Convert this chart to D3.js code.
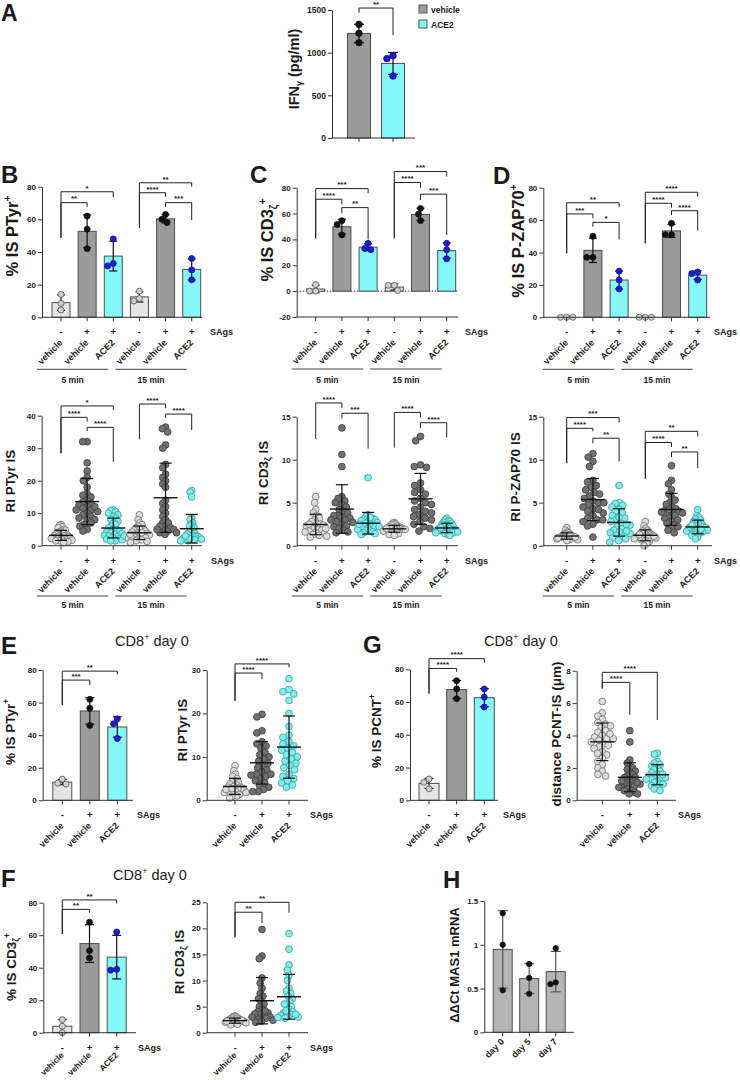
<!DOCTYPE html>
<html><head><meta charset="utf-8">
<script src="https://cdn.jsdelivr.net/npm/d3@7"></script>
<style>body{margin:0;background:#fff}svg{display:block}</style>
</head><body>
<script>
// ================= DATA =================
const treat6 = ["vehicle","vehicle","ACE2","vehicle","vehicle","ACE2"];
const sags6 = ["-","+","+","-","+","+"];
const kind6 = ["n","p","a","n","p","a"];
const timeLabels = ["5 min","15 min"];
const treat3 = ["vehicle","vehicle","ACE2"];
const sags3 = ["-","+","+"];
const kind3 = ["n","p","a"];
const hDays = ["day 0","day 5","day 7"];

// A
const aSeries = ["vehicle","ACE2"];
const aValues = [[1332,1227,1117],[965,930,727]];
const aTicks = [0,500,1000,1500];
const aSig = [[0,1,"**",1523,1469,1207]];

// B/C/D top (% IS)
const bTopValues = [[14,8.5,4.5],[62,54,42],[48,31.5,33],[16,10,11.5],[63,58,60],[36,29,23]];
const bTopTicks = [0,20,40,60,80];
const bTopSig = [[0,1,"**",70.2,48.6,67.7],[0,2,"*",76.9,48.6,73.5],[3,4,"****",76.3,54.7,73.7],[3,5,"**",82.4,54.7,80],[4,5,"***",70.2,67.6,59.6]];

const cTopValues = [[5,0,0],[54.5,51.5,43.5],[37,32,33],[4.5,4.5,0.5],[64,59.5,54.5],[37,32,25]];
const cTopTicks = [-20,0,20,40,60,80];
const cTopSig = [[0,1,"****",71.1,40.9,67.2],[0,2,"***",79.3,40.9,75.7],[1,2,"**",64.6,60.2,40],[3,4,"****",84,40.9,80],[3,5,"***",92.5,40.9,88.6],[4,5,"***",75,70.5,43.4]];

const dTopValues = [[0,0,0],[50,37,37],[28.5,23,17.5],[0,0,0],[58,51,51],[28,27,23]];
const dTopTicks = [0,20,40,60,80];
const dTopSig = [[0,1,"***",63.8,39.5,61.1],[0,2,"**",70.7,39.5,68.3],[1,2,"*",58.6,55.9,48.1],[3,4,"****",70.4,45.7,67.7],[3,5,"****",77.2,45.7,74.5],[4,5,"****",65.8,63.1,53.5]];

// B/C/D bottom (RI)
const bBotValues = [
  [6.5,6.2,5.8,5.5,5,4.8,4.5,4.2,4,3.8,3.5,3.3,3.2,3,3,2.8,2.7,2.5,2.5,2.3,2.2,2,2,1.8,1.7,1.5,1.5,1.3,1.2,1],
  [32,32,25.5,23,21,20,18,16,15.5,15,14,13.5,13,12.5,12,11.5,11,10.5,10,9.5,9,8.5,8,8,7,6.5,6,5,4.5,12,11],
  [11,10.8,10.5,10,9.5,9,8.5,8,7.5,7,6.5,6,5.5,5,4.8,4.5,4.2,4,3.8,3.5,3.2,3,2.8,2.5,2.2,2,1.8,1.5,1.5,3],
  [9.5,8,7,6.5,6,5.5,5.2,5,4.8,4.5,4.2,4,3.8,3.5,3.3,3,2.8,2.6,2.5,2.3,2.2,2,1.8,1.5,1.3,1,3.5,4],
  [36.5,36,35,31,30,25,24,22,21,20,19,18,7,6,5,14,13,12,11,10,9,8,7,6,5.5,5,4.5,4,4,3.5,5],
  [17,16.5,15,2.5,8.5,8,7,6.5,6,5.5,5,4.5,4,3.8,3.5,3.2,3,2.8,2.5,2.3,2,2,1.8,1.5,1.5,2.2,3]
];
const bBotTicks = [0,10,20,30,40];
const bBotSig = [[0,1,"****",39.5,28.4,38.2],[0,2,"*",43,28.4,41.8],[1,2,"****",36.4,35.2,25.8],[3,4,"****",43.6,32.7,42.3],[4,5,"****",40.5,39.3,35.6]];

const cBotValues = [
  [5.7,5,4.2,3.8,3.5,3.2,3,2.8,2.6,2.5,2.4,2.3,2.2,2,1.9,1.8,1.7,1.6,1.5,1.4,1.3,1.2,1.1,1,2,2.5],
  [13.7,10.6,9.2,5.7,5.5,5.2,5,4.8,4.5,4.2,4,3.8,3.5,3.3,3.2,3,2.8,2.7,2.5,2.3,2.2,2,1.8,1.6,1.5,3.5,3],
  [7.9,3.6,3.4,3.2,3.1,3,2.9,2.8,2.7,2.6,2.5,2.4,2.3,2.2,2.1,2,1.9,1.8,1.7,1.6,1.5,1.4,1.3,3.3,2.5,2.2],
  [2.7,2.6,2.5,2.4,2.3,2.2,2.1,2.1,2,2,1.9,1.9,1.8,1.8,1.7,1.6,1.5,1.4,1.3,1.2,2.2,2.0,1.9],
  [12.7,12.2,9.4,9.2,9.1,7.3,7,6.5,6.2,6,5.5,5.2,5,4.8,4.5,4.2,4,3.8,3.6,3.4,3.2,3,2.8,2.5,2.2,2,1.7],
  [3.2,3,2.9,2.8,2.7,2.6,2.5,2.4,2.3,2.2,2.1,2,2,1.9,1.9,1.8,1.8,1.7,1.6,1.5,1.4,1.3,1.2,1.7,2.1,1.5,1.6]
];
const cBotTicks = [0,5,10,15];
const cBotSig = [[0,1,"****",16.6,12.4,16.0],[1,2,"***",15.4,14.8,11.3],[3,4,"****",15.5,11.4,14.9],[4,5,"****",14.3,13.7,12.6]];

const dBotValues = [
  [2.1,1.8,1.6,1.5,1.4,1.3,1.2,1.2,1.1,1.1,1,1,1,0.9,0.9,0.8,0.8,0.7,0.7,0.6,1.3,1.0,0.9],
  [10.7,10.3,9.8,9.2,5,7.6,7.4,7,6.8,6.5,6.2,6,5.8,5.5,5.2,5,4.8,4.5,4.3,4,3.8,3.5,3.2,3,2.8,2.5,2.3,1,4.2,3],
  [7,5,4.9,4.7,4.5,4.2,4,3.8,3.5,3.2,3,2.8,2.6,2.4,2.2,2,1.8,1.6,1.5,1.4,1.2,1,0.9,0.8,0.6,0.4,2.5,3.3,1.7],
  [2.8,2.3,2,1.8,1.7,1.6,1.5,1.4,1.3,1.2,1.2,1.1,1,1,0.9,0.9,0.8,0.7,0.6,0.5,0.3,0,1.3,1.1],
  [9.3,7.6,7.2,6.5,6,5.6,5.3,5,4.8,4.5,4.3,4.1,4,3.8,3.6,3.5,3.3,3.2,3,2.8,2.6,2.4,2.2,2,1.8,1.5,3.9,4.2],
  [4.2,3.5,3.3,3.1,3,2.8,2.7,2.5,2.4,2.3,2.2,2.1,2,2,1.9,1.8,1.7,1.6,1.5,1.4,1.3,1.2,1,0.8,2.2,2.4,1.9]
];
const dBotTicks = [0,5,10,15];
const dBotSig = [[0,1,"****",13.65,9.6,13.3],[0,2,"***",14.9,9.6,14.3],[1,2,"**",12.5,11.9,9.8],[3,4,"****",12.0,7.8,11.5],[3,5,"**",13.3,7.8,12.7],[4,5,"**",10.9,10.3,9.0]];

// E (CD8+ day 0)
const eBarValues = [[13,10.5,10],[62,56.5,46],[50,47,38]];
const eBarTicks = [0,20,40,60,80];
const eBarSig = [[0,1,"***",73.8,58.5,70.7],[0,2,"**",79.3,58.5,77.3]];
const eDotValues = [
  [8,6.8,6,5.5,5,4.5,4.2,4,3.7,3.5,3.2,3,2.8,2.5,2.3,2.1,2,1.8,1.5,1.3,1,0.8,0.5,3,2.5,1.8,2.7],
  [19.8,19.2,16,15.5,13.5,13,12.5,12,11,10.5,10,9.5,9,8.5,8,7.5,7,6.5,6,5.8,5.5,5,4.5,4,3.5,3,2.5,2,2,6],
  [28,25.5,25,24.5,23,20,17,15,14.5,13.5,13,12.5,12,11.5,11,10.5,10,9.5,9,8.5,8,7.5,7,6,5.5,5,4.5,4,3,3.5]
];
const eDotTicks = [0,10,20,30];
const eDotSig = [[0,1,"****",29.3,22.9,27.9],[0,2,"****",31.4,22.9,30.6]];

// G (CD8+ day 0)
const gBarValues = [[13,11,7],[73,68,62],[68,63,57]];
const gBarTicks = [0,20,40,60,80];
const gBarSig = [[0,1,"****",80.5,65.2,78.5],[0,2,"****",86.5,65.2,84]];
const gDotValues = [
  [6.1,5.4,5.2,5,4.8,4.7,4.6,4.5,4.3,4.2,4,3.9,3.8,3.7,3.6,3.5,3.4,3.3,3.2,3,2.8,2.6,2.4,2.2,2,1.8,1.6,1.5,3.8,4.1,2.9],
  [4.3,3.6,2.5,2.3,2.1,2,1.9,1.8,1.7,1.6,1.5,1.4,1.3,1.2,1.1,1,1,0.9,0.9,0.8,0.8,0.7,0.6,0.5,0.4,0.4,1.2,1.4,1.1,0.6],
  [2.9,2.85,2.4,2.3,2.2,2.1,2,1.9,1.8,1.7,1.6,1.5,1.5,1.4,1.4,1.3,1.2,1.1,1,0.9,0.8,0.7,0.6,1.3,1.6,1.0]
];
const gDotTicks = [0,2,4,6,8];
const gDotSig = [[0,1,"****",7.28,6.9,5.27],[0,2,"****",7.9,6.9,4.96]];

// F (CD8+ day 0)
const fBarValues = [[8,4,0],[68,50.5,46],[62,38.5,39]];
const fBarTicks = [0,20,40,60,80];
const fBarSig = [[0,1,"**",75.9,60.7,73.9],[0,2,"**",81.7,60.7,79.6]];
const fDotValues = [
  [3.2,3.1,3,2.9,2.8,2.7,2.6,2.5,2.4,2.3,2.2,2.1,2,2,1.9,1.8,1.7,1.6,1.5,2.4,2.2,1.9],
  [19.8,14.7,14.2,10.5,9.5,8.5,7.5,7,6.5,6,5.5,5,4.5,4,3.8,3.5,3.2,3,2.8,2.6,2.4,2.2,2,4.2,3.6,3],
  [19,16,13,12,11,10,8.5,8,7.5,7,6.5,6,5.5,5,4.5,4,3.8,3.5,3.3,3.1,3,2.9,2.8,4.2,5.5,3.5]
];
const fDotTicks = [0,5,10,15,20,25];
const fDotSig = [[0,1,"**",23.1,18.3,21],[0,2,"**",25,18.3,23]];

// H
const hValues = [[1.36,1.0,0.48],[0.78,0.62,0.44],[0.96,0.55,0.57]];
const hTicks = [0,0.5,1,1.5];

// ================= DRAWING =================
const FONT = "'Liberation Sans', Arial, Helvetica, sans-serif";
const INK = "#1a1a1a";
const BAR = {n:"#e4e4e4", p:"#9b9b9b", a:"#86f8f8", h:"#b4b4b4"};
const BARPT = {n:["#cfcfcf","#555"], p:["#111","#111"], a:["#1c1cd6","#10108a"], h:["#111","#111"]};
const DOT = {n:["#dcdcdc","#707070"], p:["#707070","#3c3c3c"], a:["#80eeee","#3a9c9c"]};

const svg = d3.select("body").append("svg").attr("width",740).attr("height",1080)
  .attr("font-family",FONT);

function rich(sel, parts, size){
  let shift = 0;
  parts.forEach(([t,k])=>{
    const target = k==="sup" ? -size*0.42 : (k==="sub" ? size*0.22 : 0);
    sel.append("tspan").text(t).attr("dy", target-shift).attr("font-size", k ? size*0.62 : size);
    shift = target;
  });
}
function ylabel(x, y, parts, size){
  const t = svg.append("text").attr("transform",`translate(${x},${y}) rotate(-90)`)
    .attr("text-anchor","middle").attr("font-weight","bold").attr("fill",INK);
  rich(t, parts, size);
}
function txt(x,y,s,size,opt={}){
  return svg.append("text").attr("x",x).attr("y",y).text(s).attr("font-size",size)
    .attr("font-weight",opt.w||"bold").attr("text-anchor",opt.a||"start").attr("fill",INK);
}
// collision swarm; optional compression to a maximum half-width
function swarm(vals, ys, sep, maxW){
  const idx = d3.range(vals.length).sort((a,b)=>vals[b]-vals[a]);
  const placed = [], off = new Array(vals.length);
  idx.forEach(i=>{
    const py = ys(vals[i]); const ivs = []; const cands = [0];
    placed.forEach(p=>{ const dy=Math.abs(p.y-py); if(dy<sep){ const w=Math.sqrt(sep*sep-dy*dy); ivs.push([p.x-w,p.x+w]); cands.push(p.x-w,p.x+w);} });
    cands.sort((a,b)=>Math.abs(a)-Math.abs(b) || a-b);
    let best = 0;
    for(const c of cands){ if(ivs.every(([l,r])=>c<=l+1e-6||c>=r-1e-6)){best=c;break;} }
    off[i]=best; placed.push({x:best,y:py});
  });
  if(maxW){
    const m = d3.max(off, d=>Math.abs(d));
    if(m > maxW){ const k = maxW/m; for(let i=0;i<off.length;i++) off[i]*=k; }
  }
  return off;
}

function panel(o){
  const g = svg.append("g");
  const n = o.values.length;
  const y = d3.scaleLinear().domain(o.dom).range([o.yLo,o.yHi]);
  const x = d3.scalePoint().domain(d3.range(n)).range([o.c0,o.c1]);
  const axisY = y(o.dom[0]);
  const base = y(Math.max(0,o.dom[0]));
  const stats = o.values.map(v=>({m:d3.mean(v), s:d3.deviation(v)}));

  if(o.zeroLine){
    g.append("line").attr("x1",o.ax).attr("x2",o.axEnd).attr("y1",y(0)).attr("y2",y(0))
      .attr("stroke","#333").attr("stroke-width",1).attr("stroke-dasharray","1.5,1.5");
  }
  if(o.type==="bar"){
    stats.forEach((d,i)=>{
      g.append("rect").attr("x",x(i)-o.bw/2).attr("width",o.bw)
        .attr("y",Math.min(y(d.m),base)).attr("height",Math.abs(base-y(d.m)))
        .attr("fill",BAR[o.kinds[i]]).attr("stroke","#4d4d4d").attr("stroke-width",1);
    });
    const ec = o.ebColor || "#111";
    stats.forEach((d,i)=>{
      const cx=x(i), y1=y(d.m+d.s), y2=y(d.m-d.s);
      g.append("line").attr("x1",cx).attr("x2",cx).attr("y1",y1).attr("y2",y2).attr("stroke",ec).attr("stroke-width",1.2);
      [y1,y2].forEach(yy=>g.append("line").attr("x1",cx-o.cap).attr("x2",cx+o.cap).attr("y1",yy).attr("y2",yy).attr("stroke",ec).attr("stroke-width",1.2));
    });
    o.values.forEach((v,i)=>{
      const off = swarm(v, y, o.r*2.05);
      const [f,s] = BARPT[o.kinds[i]];
      v.forEach((val,j)=>g.append("circle").attr("cx",x(i)+off[j]).attr("cy",y(val)).attr("r",o.r)
        .attr("fill",f).attr("stroke",s).attr("stroke-width",0.8));
    });
  } else {
    o.values.forEach((v,i)=>{
      const off = swarm(v, y, o.r*1.9, o.maxW);
      const [f,s] = DOT[o.kinds[i]];
      v.forEach((val,j)=>g.append("circle").attr("cx",x(i)+off[j]).attr("cy",y(val)).attr("r",o.r)
        .attr("fill",f).attr("stroke",s).attr("stroke-width",0.8));
    });
    stats.forEach((d,i)=>{
      const cx=x(i), y1=y(d.m+d.s), y2=y(Math.max(d.m-d.s, o.dom[0]));
      g.append("line").attr("x1",cx-o.mw).attr("x2",cx+o.mw).attr("y1",y(d.m)).attr("y2",y(d.m)).attr("stroke","#111").attr("stroke-width",1.4);
      g.append("line").attr("x1",cx).attr("x2",cx).attr("y1",y1).attr("y2",y2).attr("stroke","#111").attr("stroke-width",1.2);
      [y1,y2].forEach(yy=>g.append("line").attr("x1",cx-o.cap).attr("x2",cx+o.cap).attr("y1",yy).attr("y2",yy).attr("stroke","#111").attr("stroke-width",1.2));
    });
  }
  // y axis
  const ya = g.append("g").attr("transform",`translate(${o.ax},0)`)
    .call(d3.axisLeft(y).tickValues(o.ticks).tickSize(4).tickSizeOuter(0).tickPadding(2).tickFormat(d=>String(d)));
  ya.select(".domain").attr("stroke","#333");
  ya.selectAll(".tick line").attr("stroke","#333");
  ya.selectAll(".tick text").attr("font-family",FONT).attr("font-size",o.tickSize||8).attr("font-weight","bold").attr("fill",INK);
  // x axis
  g.append("line").attr("x1",o.ax).attr("x2",o.axEnd).attr("y1",axisY).attr("y2",axisY).attr("stroke","#333");
  d3.range(n).forEach(i=>g.append("line").attr("x1",x(i)).attr("x2",x(i)).attr("y1",axisY).attr("y2",axisY+4).attr("stroke","#333"));
  if(o.sags){
    o.sags.forEach((s,i)=>txt(x(i), axisY+18, s, 9.5, {a:"middle"}));
    txt(o.sagsX, axisY+18, "SAgs", 9);
  }
  if(o.labels){
    o.labels.forEach((s,i)=>{
      svg.append("text").attr("transform",`translate(${x(i)+2},${axisY+o.labDy}) rotate(-45)`)
        .attr("text-anchor","end").attr("font-size",o.labSize||9).attr("font-weight","bold").attr("fill",INK).text(s);
    });
  }
  if(o.groups){
    o.groups.forEach((s,k)=>{
      const xa = x(k*3)-24, xb = x(k*3+2)-5;
      g.append("line").attr("x1",xa).attr("x2",xb).attr("y1",axisY+o.grpDy).attr("y2",axisY+o.grpDy).attr("stroke","#444");
      txt((xa+xb)/2, axisY+o.grpTy, s, 8.5, {a:"middle"});
    });
  }
  (o.sig||[]).forEach(([i,j,lab,top,li,lj])=>{
    g.append("path").attr("d",`M${x(i)},${y(li)}V${y(top)}H${x(j)}V${y(lj)}`)
      .attr("fill","none").attr("stroke","#222").attr("stroke-width",1);
    txt((x(i)+x(j))/2, y(top)-1.2, lab, 8, {a:"middle"});
  });
  if(o.ylab) ylabel(o.ylab[0], o.ylab[1], o.ylab[2], o.ylab[3]);
  return {x,y};
}

// ---------- Panel letters & titles ----------
[["A",1,21,23],["B",1,183,24],["C",250,183,24],["D",493,184,24],["E",1,654,24],["F",1,887,24],["G",363,653,24],["H",443,888,24]]
  .forEach(([s,xx,yy,fs])=>txt(xx,yy,s,fs));
[[152,646],[521,646],[150,880]].forEach(([xx,yy])=>{
  const t = svg.append("text").attr("x",xx).attr("y",yy).attr("text-anchor","middle").attr("fill",INK).attr("font-size",14.5);
  rich(t, [["CD8"],["+","sup"],[" day 0"]], 14.5);
});

// ---------- A ----------
panel({type:"bar", values:aValues, kinds:["p","a"], dom:[0,1500], yLo:138, yHi:10, ticks:aTicks,
  ax:332, axEnd:415, c0:359, c1:393, bw:23, cap:5, r:3.3, sig:aSig, tickSize:8.5,
  ylab:[299,69,[["IFN"],["γ","sub"],[" (pg/ml)"]],14.5]});
aSeries.forEach((s,i)=>{
  svg.append("rect").attr("x",419).attr("y",5+i*15).attr("width",8).attr("height",8)
    .attr("fill",BAR[["p","a"][i]]).attr("stroke","#555");
  txt(431, 12.5+i*15, s, 8.5);
});

// ---------- Top row ----------
const topCommon = {type:"bar", kinds:kind6, sags:sags6, labels:treat6, groups:timeLabels, labDy:26, grpDy:52, grpTy:65.5, bw:18, cap:4, r:3};
panel(Object.assign({}, topCommon, {values:bTopValues, dom:[0,80], yLo:317.3, yHi:186.7, ticks:bTopTicks,
  ax:42, axEnd:202, c0:61, c1:191.7, sagsX:210, sig:bTopSig, ylab:[18,236,[["% IS PTyr"],["+","sup"]],16.5]}));
panel(Object.assign({}, topCommon, {values:cTopValues, dom:[-20,80], yLo:317, yHi:187.7, ticks:cTopTicks, zeroLine:true,
  ax:296.7, axEnd:458, c0:315.7, c1:446.7, sagsX:465, sig:cTopSig, ylab:[273,240,[["% IS CD3"],["ζ","sub"],["+","sup"]],16.5]}));
panel(Object.assign({}, topCommon, {values:dTopValues, dom:[0,80], yLo:317.3, yHi:187.7, ticks:dTopTicks,
  ax:543.3, axEnd:710, c0:566.7, c1:697.7, sagsX:714, sig:dTopSig, ylab:[524,241,[["% IS P-ZAP70"],["+","sup"]],16.5]}));

// ---------- Bottom row ----------
const botCommon = {type:"dot", kinds:kind6, sags:sags6, labels:treat6, groups:timeLabels, labDy:26, grpDy:50.3, grpTy:62.5, r:3.4, mw:12, cap:6, maxW:11};
panel(Object.assign({}, botCommon, {values:bBotValues, dom:[0,40], yLo:545.7, yHi:415.7, ticks:bBotTicks,
  ax:41.7, axEnd:202, c0:61, c1:191.7, sagsX:211, sig:bBotSig, ylab:[15,481,[["RI PTyr IS"]],13.5]}));
panel(Object.assign({}, botCommon, {values:cBotValues, dom:[0,15], yLo:545.7, yHi:416.7, ticks:cBotTicks,
  ax:296.7, axEnd:458, c0:315.7, c1:446.7, sagsX:465, sig:cBotSig, ylab:[268,473,[["RI CD3"],["ζ","sub"],[" IS"]],13.5]}));
panel(Object.assign({}, botCommon, {values:dBotValues, dom:[0,15], yLo:545.7, yHi:416.7, ticks:dBotTicks,
  ax:543.3, axEnd:712, c0:566.7, c1:697.7, sagsX:714, sig:dBotSig, ylab:[520,477,[["RI P-ZAP70 IS"]],13.5]}));

// ---------- E ----------
const e3 = {kinds:kind3, sags:sags3, labels:treat3, labDy:26};
panel(Object.assign({}, e3, {type:"bar", values:eBarValues, dom:[0,80], yLo:800.3, yHi:670, ticks:eBarTicks,
  ax:42.7, axEnd:133, c0:62.3, c1:117.3, sagsX:137, bw:19, cap:4.5, r:3, sig:eBarSig,
  ylab:[15,732,[["% IS PTyr"],["+","sup"]],13.5]}));
panel(Object.assign({}, e3, {type:"dot", values:eDotValues, dom:[0,30], yLo:800.3, yHi:670, ticks:eDotTicks,
  ax:206.7, axEnd:308, c0:235, c1:289, sagsX:310, r:3.4, mw:12, cap:6, maxW:11, sig:eDotSig,
  ylab:[187,730,[["RI PTyr IS"]],13.5]}));

// ---------- G ----------
panel(Object.assign({}, e3, {type:"bar", values:gBarValues, dom:[0,80], yLo:800.3, yHi:669.3, ticks:gBarTicks,
  ax:410, axEnd:498, c0:429, c1:484.3, sagsX:503, bw:20, cap:4.5, r:3, sig:gBarSig,
  ylab:[381,731,[["% IS PCNT"],["+","sup"]],13.5]}));
panel(Object.assign({}, e3, {type:"dot", values:gDotValues, dom:[0,8], yLo:800.3, yHi:670.7, ticks:gDotTicks,
  ax:576.7, axEnd:676, c0:602.3, c1:657.3, sagsX:678, r:3.4, mw:12, cap:6, maxW:11, sig:gDotSig,
  ylab:[561,734,[["distance PCNT-IS (μm)"]],13.5]}));

// ---------- F ----------
const f3 = {kinds:kind3, sags:sags3, labels:treat3, labDy:23, labSize:8.5};
panel(Object.assign({}, f3, {type:"bar", values:fBarValues, dom:[0,80], yLo:1032.7, yHi:902.7, ticks:fBarTicks,
  ax:43.3, axEnd:136, c0:62.3, c1:116.7, sagsX:138, bw:19, cap:4.5, r:3, sig:fBarSig,
  ylab:[16,967,[["% IS CD3"],["ζ","sub"],["+","sup"]],13.5]}));
panel(Object.assign({}, f3, {type:"dot", values:fDotValues, dom:[0,25], yLo:1032.7, yHi:902.3, ticks:fDotTicks,
  ax:206.7, axEnd:308, c0:235, c1:289, sagsX:310, r:3.4, mw:12, cap:6, maxW:11, sig:fDotSig,
  ylab:[184,962,[["RI CD3"],["ζ","sub"],[" IS"]],13.5]}));

// ---------- H ----------
panel({type:"bar", values:hValues, kinds:["h","h","h"], dom:[0,1.5], yLo:1032.3, yHi:901, ticks:hTicks,
  ax:484.3, axEnd:574, c0:502.7, c1:555.7, bw:19, cap:5, r:2.7, ebColor:"#555",
  labels:hDays, labDy:10, ylab:[459,965,[["ΔΔCt MAS1 mRNA"]],13]});
</script>
</body></html>
